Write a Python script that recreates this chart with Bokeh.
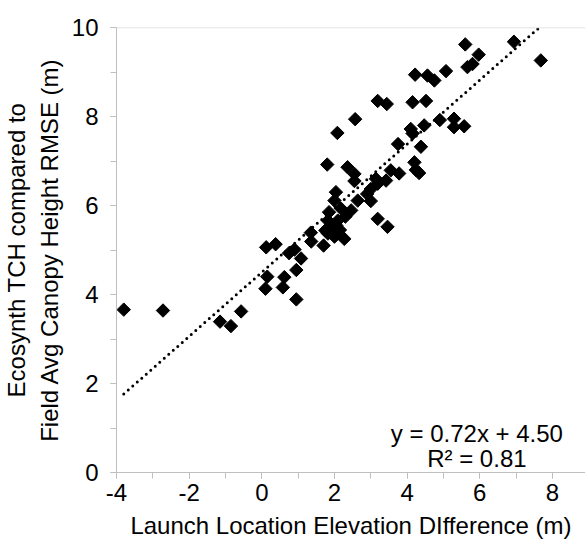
from bokeh.plotting import figure
from bokeh.models import (Range1d, SingleIntervalTicker, Span, Label, ColumnDataSource,
                          PrintfTickFormatter)
from bokeh.embed import file_html
from bokeh.resources import INLINE
import math

# Data
x_vals = [-3.80, -2.72, -1.15, -0.85, -0.57, 0.10, 0.15, 0.12, 0.38, 0.58,
          0.62, 0.75, 0.90, 0.95, 0.95, 1.08, 1.35, 1.36, 1.70, 1.75,
          1.82, 1.82, 1.90, 1.85, 2.00, 2.05, 2.09, 2.15, 2.27, 2.00,
          2.04, 2.18, 2.30, 2.46, 2.64, 2.55, 2.36, 2.55, 1.80, 2.08,
          2.57, 2.90, 3.00, 3.00, 3.14, 3.19, 3.42, 3.55, 3.78, 3.19,
          3.46, 3.19, 3.44, 3.75, 4.20, 4.24, 4.33, 4.10, 4.15, 4.47,
          4.38, 4.90, 5.29, 5.29, 5.57, 4.15, 4.52, 4.22, 4.56, 4.75,
          5.07, 5.60, 5.97, 5.66, 5.80, 6.94, 7.68]
y_vals = [3.66, 3.64, 3.39, 3.29, 3.62, 4.13, 4.40, 5.06, 5.13, 4.16,
          4.39, 4.93, 5.01, 4.55, 3.89, 4.81, 5.39, 5.19, 5.10, 5.44,
          5.37, 5.66, 5.52, 5.85, 5.30, 5.55, 5.66, 5.45, 5.25, 6.11,
          6.30, 5.93, 5.75, 5.89, 6.11, 6.55, 6.86, 6.71, 6.92, 7.63,
          7.94, 6.26, 6.10, 6.37, 6.60, 6.49, 6.56, 6.79, 6.72, 5.70,
          5.52, 8.35, 8.28, 7.38, 6.97, 6.80, 6.73, 7.72, 7.62, 7.80,
          7.32, 7.92, 7.95, 7.76, 7.78, 8.32, 8.35, 8.94, 8.92, 8.81,
          9.02, 9.62, 9.39, 9.11, 9.18, 9.68, 9.26]

trend_slope = 0.72
trend_intercept = 4.50
eq_text = "y = 0.72x + 4.50"
r2_text = "R² = 0.81"
x_label = "Launch Location Elevation DIfference (m)"
y_label = "Ecosynth TCH compared to\nField Avg Canopy Height RMSE (m)"

FONT = "Liberation Sans"
AXIS_GRAY = "#bfbfbf"

p = figure(width=585, height=544, output_backend="svg", toolbar_location=None,
           x_range=Range1d(-4, 8.91), y_range=Range1d(0, 10.0),
           min_border_left=115, min_border_right=0, min_border_top=27,
           min_border_bottom=72)
p.grid.visible = False
p.outline_line_color = None
p.background_fill_color = "white"
p.border_fill_color = "white"

for ax, lbl in ((p.xaxis, x_label), (p.yaxis, y_label)):
    ax.axis_label = lbl
    ax.axis_label_text_font = FONT
    ax.axis_label_text_font_style = "normal"
    ax.axis_label_text_color = "#000000"
    ax.major_label_text_font = FONT
    ax.major_label_text_color = "#000000"
    ax.axis_line_color = AXIS_GRAY
    ax.major_tick_line_color = AXIS_GRAY
    ax.minor_tick_line_color = AXIS_GRAY
    ax.major_tick_in = 0
    ax.major_tick_out = 6
    ax.minor_tick_in = 0
    ax.minor_tick_out = 6
    ax.formatter = PrintfTickFormatter(format="%d")

p.xaxis.ticker = SingleIntervalTicker(interval=2, num_minor_ticks=2)
p.yaxis.ticker = SingleIntervalTicker(interval=2, num_minor_ticks=2)
p.xaxis.major_label_text_font_size = "24px"
p.yaxis.major_label_text_font_size = "24px"
p.xaxis.axis_label_text_font_size = "24px"
p.yaxis.axis_label_text_font_size = "24px"
p.xaxis.major_label_standoff = 5
p.yaxis.major_label_standoff = 12
p.xaxis.axis_label_standoff = 8
p.yaxis.axis_label_standoff = 6

# top border line at y = 10
p.add_layout(Span(location=10, dimension="width", line_color="#d9d9d9", line_width=1.5))

# trend line
tx = [min(x_vals), max(x_vals)]
ty = [trend_slope * v + trend_intercept for v in tx]
p.line(tx, ty, line_color="black", line_width=3, line_dash="0 6", line_cap="round")

src = ColumnDataSource(dict(x=x_vals, y=y_vals))
p.scatter("x", "y", source=src, marker="square", size=9.5, angle=math.pi / 4,
          fill_color="black", line_color="black")

p.add_layout(Label(x=5.92, y=0.88, text=eq_text, text_font=FONT, text_font_size="24px",
                   text_align="center", text_baseline="middle", text_color="black"))
p.add_layout(Label(x=5.92, y=0.31, text=r2_text, text_font=FONT, text_font_size="24px",
                   text_align="center", text_baseline="middle", text_color="black"))

open("out.html", "w").write(file_html(p, INLINE))
